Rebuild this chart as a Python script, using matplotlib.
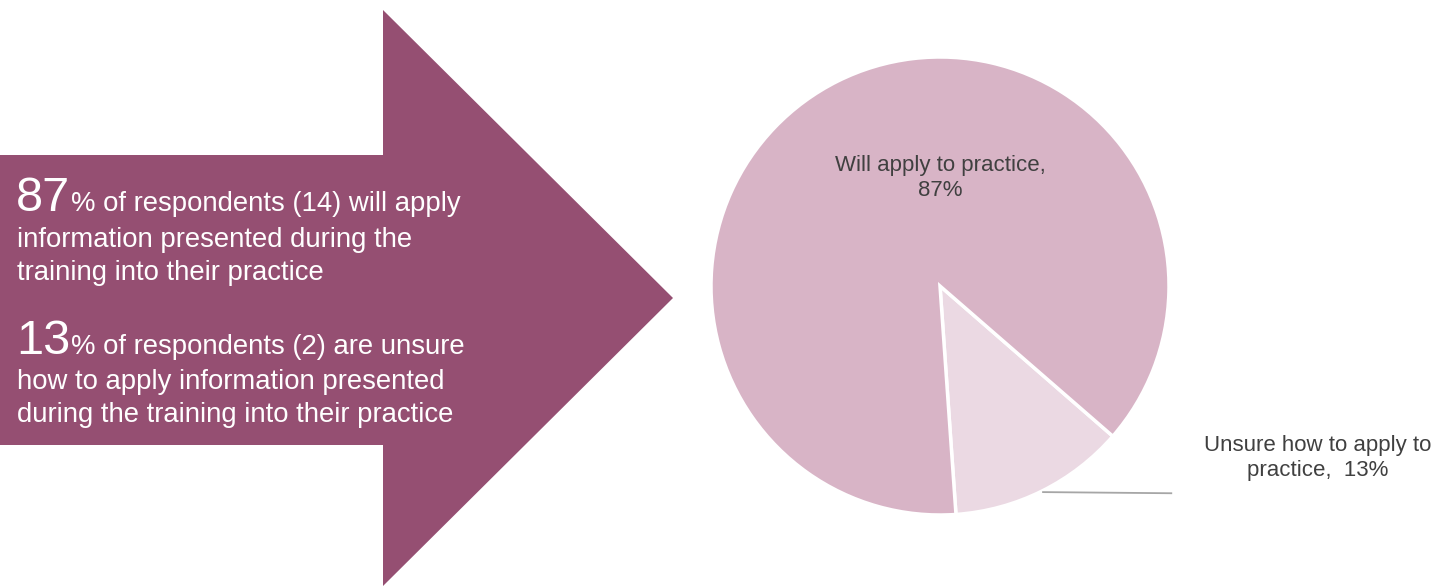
import matplotlib
matplotlib.use("Agg")
import matplotlib.pyplot as plt
from matplotlib.patches import Polygon

plt.rcParams['font.family'] = ['Liberation Sans', 'DejaVu Sans']

# data
labels = ["Unsure how to apply to\npractice,  13%", "Will apply to practice,\n87%"]
counts = [2, 14]
colors = ["#EBD9E3", "#D8B4C6"]
big_numbers = ["87", "13"]
para_lines = [
    ["% of respondents (14) will apply",
     "information presented during the",
     "training into their practice"],
    ["% of respondents (2) are unsure",
     "how to apply information presented",
     "during the training into their practice"],
]

W, H = 1455, 586
fig = plt.figure(figsize=(W / 100, H / 100), dpi=100)

# overlay axes in pixel coordinates for the arrow and the text
bg = fig.add_axes([0, 0, 1, 1])
bg.set_xlim(0, W)
bg.set_ylim(H, 0)
bg.axis('off')

arrow = Polygon([(0, 155), (383, 155), (383, 10), (673, 298),
                 (383, 586), (383, 445), (0, 445)],
                closed=True, facecolor="#954F72", edgecolor="none")
bg.add_patch(arrow)

fig.canvas.draw()
renderer = fig.canvas.get_renderer()
baselines = [[211, 247, 280], [354, 389, 422]]
for num, lines, ys in zip(big_numbers, para_lines, baselines):
    t = bg.text(16, ys[0], num, fontsize=35, color="white",
                ha="left", va="baseline")
    bb = t.get_window_extent(renderer)
    x_after = bg.transData.inverted().transform((bb.x1, bb.y0))[0]
    bg.text(x_after + 1, ys[0], lines[0], fontsize=19.8, color="white",
            ha="left", va="baseline")
    for line, y in zip(lines[1:], ys[1:]):
        bg.text(17, y, line, fontsize=19.8, color="white",
                ha="left", va="baseline")

# pie chart
cx, cy, r = 940, 286, 229
pie_ax = fig.add_axes([(cx - r) / W, (H - cy - r) / H, 2 * r / W, 2 * r / H])
pie_ax.pie(counts, colors=colors, startangle=-41, counterclock=False,
           wedgeprops=dict(edgecolor="white", linewidth=2.5))
pie_ax.set_xlim(-1, 1)
pie_ax.set_ylim(-1, 1)
pie_ax.set_aspect('equal')

pie_ax.text(0, 0.47, labels[1], fontsize=16, color="#404040",
            ha="center", va="center", linespacing=1.25)
pie_ax.text(1.65, -0.75, labels[0], fontsize=16, color="#404040",
            ha="center", va="center", linespacing=1.25, clip_on=False)
pie_ax.plot([0.45, 1.01], [-0.90, -0.905], color="#A6A6A6", lw=1.3,
            clip_on=False)

fig.savefig("out.png", dpi=100)
